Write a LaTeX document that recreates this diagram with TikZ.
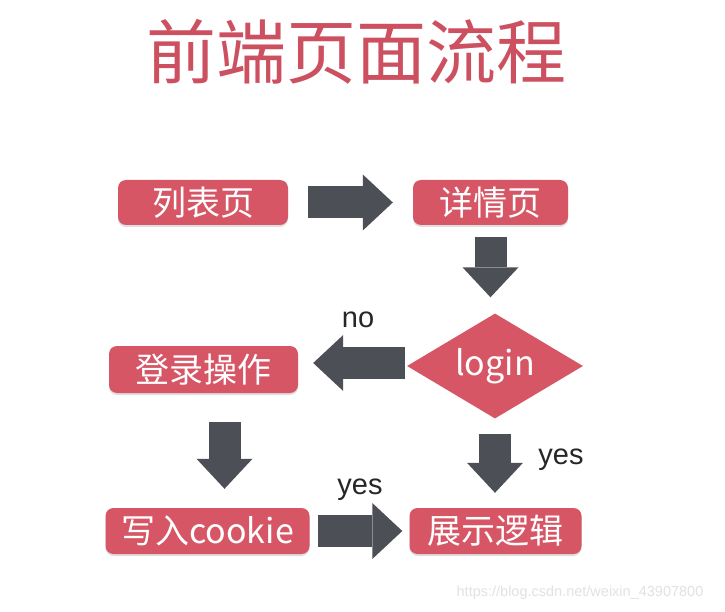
\documentclass[tikz,border=0pt]{standalone}
\usepackage{fontspec}
\setmainfont{Liberation Sans}
\newfontfamily\cjk{Noto Sans CJK SC}
\usetikzlibrary{shapes.geometric,arrows.meta,shadows}
\definecolor{boxred}{RGB}{214,86,102}
\definecolor{titlered}{RGB}{204,80,96}
\definecolor{arrgray}{RGB}{76,79,85}
\definecolor{wmgray}{RGB}{226,226,226}
\tikzset{
  stepbox/.style={rectangle, rounded corners=8pt, fill=boxred, text=white,
    inner sep=0pt, font=\cjk\fontsize{34}{36}\selectfont,
    drop shadow={opacity=0.25, shadow xshift=0pt, shadow yshift=-2pt}},
  decision/.style={diamond, fill=boxred, text=white, inner sep=0pt,
    minimum width=176pt, minimum height=105pt, aspect=1.7,
    font=\cjk\fontsize{34}{36}\selectfont},
  blockarrow/.style={draw=arrgray, line width=32pt, line cap=butt,
    -{Triangle[length=30pt,width=56pt,line width=0pt]}},
  lbl/.style={font=\fontsize{29}{31}\selectfont, text=black!85, inner sep=0pt}
}
\begin{document}
\begin{tikzpicture}[x=1pt,y=-1pt]
\useasboundingbox[fill=white] (0,0) rectangle (725,612);
\node[font=\cjk\fontsize{70}{72}\selectfont, text=titlered, inner sep=0pt] (title) at (356,52) {前端页面流程};

\node[stepbox, minimum width=170pt, minimum height=45pt] (list) at (203,202.5) {列表页};
\node[stepbox, minimum width=155pt, minimum height=45pt] (detail) at (490.5,202.5) {详情页};
\node[decision] (login) at (495,366) {login};
\node[stepbox, minimum width=189pt, minimum height=47pt] (signin) at (203.5,369.5) {登录操作};
\node[stepbox, minimum width=204pt, minimum height=46pt] (cookie) at (207.5,531) {写入cookie};
\node[stepbox, minimum width=172pt, minimum height=46pt] (show) at (495.5,531) {展示逻辑};

\draw[blockarrow, shorten <=20pt, shorten >=20pt] (list) -- (detail);
\draw[blockarrow, shorten <=12pt, shorten >=16pt] (detail.south) -- (detail.south |- login.north);
\draw[blockarrow, shorten <=2pt, shorten >=15pt] ([yshift=3pt]login.west) -- ([yshift=3pt]login.west -| signin.east);
\draw[blockarrow, shorten <=29pt, shorten >=19pt] ([xshift=21pt]signin.south) -- ([xshift=21pt]signin.south |- cookie.north);
\draw[blockarrow, shorten <=15pt, shorten >=15pt] (login.south) -- (login.south |- show.north);
\draw[blockarrow, shorten <=8pt, shorten >=7pt] (cookie) -- (show);

\node[lbl] (no) at (358,320) {no};
\node[lbl] (yes1) at (561,460) {yes};
\node[lbl] (yes2) at (360,490) {yes};

\node[font=\fontsize{14.5}{16}\selectfont, text=wmgray, inner sep=0pt] (wm) at (580,593) {https://blog.csdn.net/weixin\_43907800};
\end{tikzpicture}
\end{document}
